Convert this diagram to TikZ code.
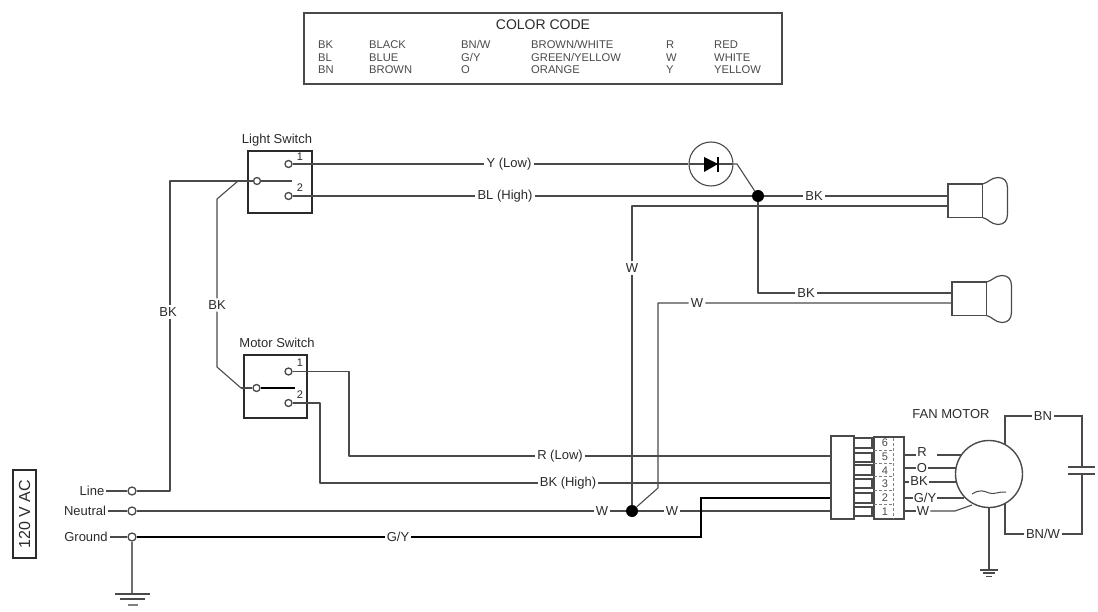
\documentclass[tikz,border=0pt]{standalone}
\usepackage{fontspec}
\setmainfont{Liberation Sans}
\definecolor{ink}{HTML}{2B2B2B}
\definecolor{soft}{HTML}{4A4A4A}
\tikzset{
  wire/.style={draw=soft,line width=1.1pt,line join=round},
  heavy/.style={draw=black,line width=2pt,line join=miter},
  lab/.style={font=\fontsize{13}{13}\selectfont,text=ink,inner sep=2pt},
  num/.style={font=\fontsize{11}{11}\selectfont,text=ink,inner sep=0pt},
  code/.style={font=\fontsize{11.2}{11.2}\selectfont,text=soft,inner sep=0pt,anchor=west},
  term/.style={circle,draw=soft,line width=1.3pt,fill=white,minimum size=7pt,inner sep=0pt},
  junction/.style={circle,fill=black,minimum size=12pt,inner sep=0pt},
}
\begin{document}
\begin{tikzpicture}[x=1pt,y=-1pt]
\useasboundingbox (0,0) rectangle (1098,612);
% colour code
\node[draw=soft,line width=1.2pt,minimum width=478pt,minimum height=71pt,inner sep=0pt] (codebox) at (543,48.5) {};
\node[font=\fontsize{14}{14}\selectfont,text=ink,inner sep=0pt] (codetitle) at (543,25) {COLOR CODE};
\foreach \xa/\ya/\ta in {318/45/BK,369/45/BLACK,461/45/BN\slash W,531/45/BROWN\slash WHITE,666/45/R,714/45/RED,
  318/58/BL,369/58/BLUE,461/58/G\slash Y,531/58/GREEN\slash YELLOW,666/58/W,714/58/WHITE,
  318/70/BN,369/70/BROWN,461/70/O,531/70/ORANGE,666/70/Y,714/70/YELLOW}
  {\node[code] at (\xa,\ya) {\ta};}
% 120 V AC
\node[draw=ink,line width=1.4pt,minimum width=23pt,minimum height=88pt,inner sep=0pt] (acbox) at (24.5,514) {};
\node[rotate=90,font=\fontsize{16}{16}\selectfont,text=ink,inner sep=0pt] (actext) at (24.5,514) {120 V AC};
% switches
\node[draw=ink,line width=1.6pt,minimum width=64pt,minimum height=62pt,inner sep=0pt] (lsbox) at (280,182) {};
\node[lab] (lslab) at (277,140) {Light Switch};
\node[draw=ink,line width=1.6pt,minimum width=63pt,minimum height=63pt,inner sep=0pt] (msbox) at (275.5,386.5) {};
\node[lab] (mslab) at (277,343) {Motor Switch};
\node[num] at (300,157) {1};
\node[num] at (300,188) {2};
\node[num] at (300,363) {1};
\node[num] at (300,395) {2};
% junctions
\node[junction] (jtop) at (758,196) {};
\node[junction] (jbot) at (632,511) {};
% wire labels
\node[lab] (lY) at (509,164) {Y (Low)};
\node[lab] (lBL) at (505,196) {BL (High)};
\node[lab] (lBK1) at (814,196) {BK};
\node[lab] (lBK2) at (806,293) {BK};
\node[lab] (lWv) at (632,268) {W};
\node[lab] (lW2) at (697,303) {W};
\node[lab] (lBKa) at (168,312) {BK};
\node[lab] (lBKb) at (217,305) {BK};
\node[lab] (lR) at (560,456) {R (Low)};
\node[lab] (lBKH) at (568,483) {BK (High)};
\node[lab] (lWn) at (602,511) {W};
\node[lab] (lWm) at (672,511) {W};
\node[lab] (lGY) at (398,537) {G/Y};
\node[lab] (lLine) at (92,491) {Line};
\node[lab] (lNeu) at (85,511) {Neutral};
\node[lab] (lGnd) at (86,537) {Ground};
% connector ends
\coordinate (lamp1a) at (948,196);
\coordinate (lamp1b) at (948,206);
\coordinate (lamp2a) at (952,293);
\coordinate (lamp2b) at (952,303);
\coordinate (cnR) at (831,456);
\coordinate (cnBK) at (831,483);
\coordinate (cnGY) at (831,498);
\coordinate (cnW) at (831,511);
\coordinate (lineCol) at (170,491);
% diode
\node[circle,draw=soft,line width=1.1pt,minimum size=44pt,inner sep=0pt] (diode) at (711,164) {};
\draw[wire] (689,164) -- (733,164);
\fill[black] (704,157) -- (718,164) -- (704,172) -- cycle;
\draw[black,line width=1.2pt] (718,157) -- (718,172);
% terminals
\node[term] (L1) at (288.5,164) {};
\node[term] (L2) at (288.5,196) {};
\node[term] (Lc) at (257,181) {};
\node[term] (M1) at (288.5,371.5) {};
\node[term] (M2) at (288.5,403) {};
\node[term] (Mc) at (256.5,388) {};
\node[term,minimum size=8pt] (tLine) at (132,491) {};
\node[term,minimum size=8pt] (tNeu) at (132,511) {};
\node[term,minimum size=8pt] (tGnd) at (132,537) {};
% wires
\draw[wire] (L1) -- (lY) -- (diode);
\draw[wire] (diode.east) -- (737,164) -- (jtop);
\draw[wire] (L2) -- (lBL) -- (jtop) -- (lBK1) -- (lamp1a);
\draw[wire] (jbot) -- (lWv) -- (632,206) -- (lamp1b);
\draw[wire] (jtop) -- (758,293) -- (lBK2) -- (lamp2a);
\draw[wire] (jbot) -- (658,488) -- (658,303) -- (lW2) -- (lamp2b);
\draw[wire] (tLine) -- (lineCol) -- (lineCol |- lBKa.south);
\draw[wire] (lineCol |- lBKa.north) -- (170,181) -- (Lc);
\draw[wire] (Lc) -- (292,181);
\draw[wire] (238,181) -- (217,199) -- (lBKb) -- (217,367) -- (241,388);
\draw[wire] (241,388) -- (Mc);
\draw[black,line width=1.3pt] (Mc) -- (295,388);
\draw[wire] (M1) -- (349,371.5) -- (349,456) -- (lR) -- (cnR);
\draw[wire] (M2) -- (320,403) -- (320,483) -- (lBKH) -- (cnBK);
\draw[wire] (tNeu) -- (lWn) -- (jbot) -- (lWm) -- (cnW);
\draw[heavy] (tGnd) -- (lGY) -- (701,537) -- (701,498) -- (cnGY);
\draw[wire] (lLine) -- (tLine);
\draw[wire] (lNeu) -- (tNeu);
\draw[wire] (lGnd) -- (tGnd);
\draw[wire,draw=soft!80] (tGnd) -- (132,594);
\draw[soft,line width=1.1pt] (115,594) -- (150,594) (120,599) -- (145,599);
\draw[soft!70,line width=1.1pt] (128,605) -- (138,605);
% lamps
\foreach \ox/\oy in {948/184,952/282}{
  \begin{scope}[shift={(\ox,\oy)}]
    \draw[soft,line width=1.2pt] (0,0) rectangle (34.5,33.5);
    \draw[soft,line width=1.2pt] (34.5,0) .. controls (40,-1) and (43,-6.5) .. (50,-6.5) .. controls (56,-6.5) and (59.5,-3) .. (59.5,4) -- (59.5,30) .. controls (59.5,37) and (56,40.5) .. (50,40.5) .. controls (43,40.5) and (40,34.5) .. (34.5,33.5);
  \end{scope}
}
% motor connector
\node[draw=soft,line width=1.2pt,minimum width=23pt,minimum height=83pt,inner sep=0pt] (cn) at (842.5,477.5) {};
\foreach \ya/\yb in {438/448,453/462,465/475,479/488,493/503,507/516}
  \draw[soft,line width=1.1pt] (854,\ya) -- (872,\ya) -- (872,\yb) -- (854,\yb);
\node[draw=soft,line width=1.2pt,minimum width=30pt,minimum height=82pt,inner sep=0pt] (plug) at (889,478) {};
\draw[soft!70,line width=0.8pt,densely dashed] (893,438) -- (893,519);
\foreach \ya in {450,463,476,490,504}
  \draw[soft!70,line width=0.8pt,densely dashed] (874,\ya) -- (893,\ya);
\foreach \ya/\ta in {443/6,457/5,471/4,484/3,498/2,512/1}
  \node[num,text=soft] at (885,\ya) {\ta};
% motor
\node[circle,draw=soft,line width=1.4pt,minimum size=67pt,inner sep=0pt] (motor) at (989,474) {};
\draw[soft,line width=1pt] (972,494) .. controls (980,489) and (984,491) .. (989,493) .. controls (994,495) and (1000,491) .. (1006,492);
\node[lab] (fan) at (951,414) {FAN MOTOR};
\node[lab,inner sep=1pt] (mR) at (922,452) {R};
\node[lab,inner sep=1pt] (mO) at (922,468) {O};
\node[lab,inner sep=1pt] (mBK) at (919,481) {BK};
\node[lab,inner sep=1pt] (mGY) at (925,498) {G/Y};
\node[lab,inner sep=1pt] (mW) at (923,511) {W};
\coordinate (pR) at (904,455);
\coordinate (pO) at (904,468);
\coordinate (pBK) at (904,482);
\coordinate (pGY) at (904,498);
\coordinate (pW) at (904,511);
\draw[wire] (pR) -- (mR.west|-pR);
\draw[wire] (937,455) -- (962,455);
\draw[wire] (pO) -- (mO.west);
\draw[wire] (mO.east) -- (956,468);
\draw[wire] (pBK) -- (mBK.west|-pBK);
\draw[wire] (mBK.east|-pBK) -- (956,482);
\draw[wire] (pGY) -- (mGY.west);
\draw[wire] (mGY.east) -- (964,498);
\draw[wire] (pW) -- (mW.west);
\draw[wire] (mW.east) -- (955,511) -- (972,505);
\node[lab] (mBN) at (1043,416) {BN};
\node[lab] (mBNW) at (1043,534) {BN/W};
\coordinate (capTop) at (1082,467);
\coordinate (capBot) at (1082,474);
\draw[soft,line width=1.3pt] (1005,445) -- (1005,416) -- (mBN) -- (1082,416) -- (capTop);
\draw[soft,line width=1.3pt] (capBot) -- (1082,534) -- (mBNW) -- (1005,534) -- (1005,504);
\draw[soft,line width=1.3pt] (1068,467) -- (1095,467) (1068,474) -- (1095,474);
\coordinate (gnd2) at (989,570);
\draw[soft,line width=1.3pt] (motor.south) -- (gnd2);
\draw[soft,line width=1.1pt] (980,570) -- (998,570) (983,573) -- (995,573);
\draw[soft,line width=1pt] (986,576) -- (992,576);
\end{tikzpicture}
\end{document}
